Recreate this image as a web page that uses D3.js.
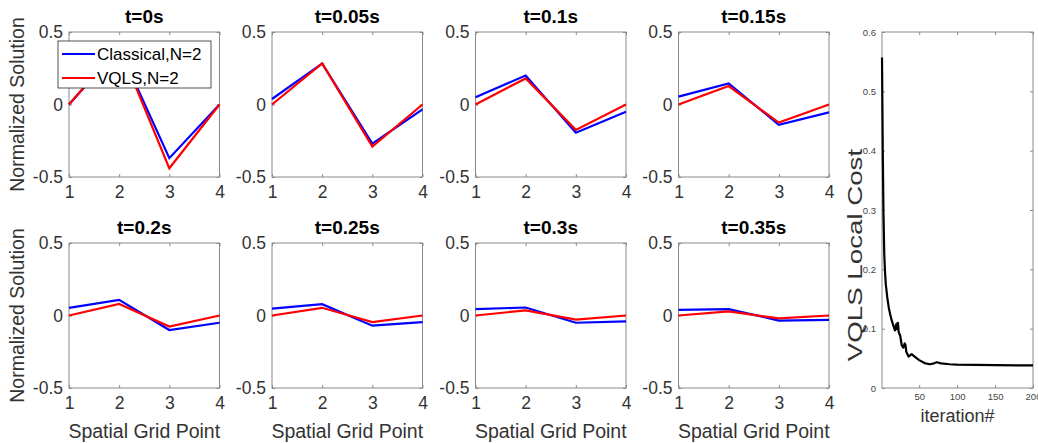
<!DOCTYPE html>
<html><head><meta charset="utf-8">
<script src="https://cdn.jsdelivr.net/npm/d3@7"></script>
<style>
html,body{margin:0;padding:0;background:#fff;}
svg{display:block;font-family:"Liberation Sans",Arial,sans-serif;}
</style></head>
<body>
<svg id="chart" width="1038" height="443"></svg>
<script>
// ---------- data ----------
const gridPoints = [1, 2, 3, 4];
const panelTitles = ["t=0s","t=0.05s","t=0.1s","t=0.15s","t=0.2s","t=0.25s","t=0.3s","t=0.35s"];
const classical = [
  [0, 0.39, -0.37, 0],
  [0.038, 0.283, -0.27, -0.033],
  [0.05, 0.20, -0.195, -0.05],
  [0.054, 0.145, -0.14, -0.054],
  [0.053, 0.108, -0.10, -0.05],
  [0.048, 0.078, -0.07, -0.046],
  [0.044, 0.055, -0.05, -0.04],
  [0.039, 0.044, -0.035, -0.03]
];
const vqls = [
  [0, 0.40, -0.44, 0],
  [0, 0.283, -0.29, 0],
  [0, 0.18, -0.175, 0],
  [0, 0.127, -0.125, 0],
  [0, 0.08, -0.076, 0],
  [0, 0.053, -0.046, 0],
  [0, 0.035, -0.028, 0],
  [0, 0.028, -0.02, 0]
];
const seriesNames = ["Classical,N=2", "VQLS,N=2"];
const yTickValues = [-0.5, 0, 0.5];
const yTickLabels = ["-0.5", "0", "0.5"];
const xTickLabels = ["1", "2", "3", "4"];

const costIter = [1,2,3,4,5,6,8,10,12,14,16,18,19,20,21,22,23,25,27,29,31,32,33,36,40,44,50,57,64,68,73,79,90,100,150,200];
const costVal  = [0.557,0.40,0.29,0.225,0.195,0.175,0.152,0.135,0.123,0.113,0.105,0.097,0.103,0.108,0.099,0.110,0.094,0.088,0.072,0.068,0.075,0.072,0.061,0.053,0.057,0.053,0.047,0.042,0.040,0.041,0.0435,0.0415,0.040,0.0395,0.0385,0.038];
const costXTicks = [50, 100, 150, 200];
const costYTicks = [0, 0.1, 0.2, 0.3, 0.4, 0.5, 0.6];
const costYTickLabels = ["0","0.1","0.2","0.3","0.4","0.5","0.6"];

// ---------- layout ----------
const svg = d3.select("#chart");
const colLeft = [69, 272, 475.5, 678.5];
const rowTop = [32, 243];
const pw = 150.5, ph = 145;
const frameColor = "#8a8a8a";
const textColor = "#333";
const colors = ["#0000ff", "#ff0000"];

panelTitles.forEach((title, i) => {
  const col = i % 4, row = Math.floor(i / 4);
  const left = colLeft[col], top = rowTop[row];
  const x = d3.scaleLinear().domain([1, 4]).range([left, left + pw]);
  const y = d3.scaleLinear().domain([-0.5, 0.5]).range([top + ph, top]);
  const g = svg.append("g");

  g.append("rect").attr("x", left).attr("y", top).attr("width", pw).attr("height", ph)
    .attr("fill", "#fff").attr("stroke", frameColor).attr("stroke-width", 1);

  const styleAxis = sel => {
    sel.select(".domain").remove();
    sel.selectAll(".tick line").attr("stroke", frameColor);
    sel.selectAll(".tick text").attr("fill", textColor).attr("font-size", "17.5px")
      .attr("font-family", '"Liberation Sans",Arial,sans-serif');
  };
  g.append("g").attr("transform", `translate(${left},0)`)
    .call(d3.axisLeft(y).tickValues(yTickValues).tickSize(-3).tickPadding(6)
      .tickFormat((d, k) => yTickLabels[k])).call(styleAxis);
  g.append("g").attr("transform", `translate(${left + pw},0)`)
    .call(d3.axisRight(y).tickValues(yTickValues).tickSize(-3).tickFormat("")).call(styleAxis);
  g.append("g").attr("transform", `translate(0,${top + ph})`)
    .call(d3.axisBottom(x).tickValues(gridPoints).tickSize(-3).tickPadding(9)
      .tickFormat((d, k) => xTickLabels[k])).call(styleAxis);
  g.append("g").attr("transform", `translate(0,${top})`)
    .call(d3.axisTop(x).tickValues(gridPoints).tickSize(-3).tickFormat("")).call(styleAxis);

  const line = d3.line().x((d, k) => x(gridPoints[k])).y(d => y(d));
  [classical[i], vqls[i]].forEach((vals, s) => {
    g.append("path").datum(vals).attr("d", line).attr("fill", "none")
      .attr("stroke", colors[s]).attr("stroke-width", 2.2).attr("stroke-linejoin", "miter");
  });

  g.append("text").attr("x", left + pw / 2).attr("y", top - 9.5).attr("text-anchor", "middle")
    .attr("font-weight", "bold").attr("font-size", "19px").attr("fill", "#000").text(title);

  if (col === 0) {
    g.append("text").attr("transform", `translate(24,${top + ph / 2}) rotate(-90)`)
      .attr("text-anchor", "middle").attr("font-size", "19.5px").attr("fill", textColor)
      .text("Normalized Solution");
  }
  if (row === 1) {
    g.append("text").attr("x", left + pw / 2).attr("y", 438).attr("text-anchor", "middle")
      .attr("font-size", "19.5px").attr("fill", textColor).text("Spatial Grid Point");
  }
});

// legend (first panel)
const leg = svg.append("g");
leg.append("rect").attr("x", 58).attr("y", 41).attr("width", 153).attr("height", 47)
  .attr("fill", "#fff").attr("stroke", "#262626").attr("stroke-width", 0.8);
seriesNames.forEach((name, s) => {
  const ly = 54 + s * 24;
  leg.append("line").attr("x1", 62).attr("x2", 95).attr("y1", ly).attr("y2", ly)
    .attr("stroke", colors[s]).attr("stroke-width", 2.2);
  leg.append("text").attr("x", 97).attr("y", ly + 6).attr("font-size", "17px")
    .attr("fill", "#000").text(name);
});

// ---------- cost panel ----------
const cL = 882, cR = 1033, cT = 32, cB = 388;
const cx = d3.scaleLinear().domain([1, 200]).range([cL, cR]);
const cy = d3.scaleLinear().domain([0, 0.6]).range([cB, cT]);
const cg = svg.append("g");
cg.append("rect").attr("x", cL).attr("y", cT).attr("width", cR - cL).attr("height", cB - cT)
  .attr("fill", "#fff").attr("stroke", frameColor).attr("stroke-width", 1);
const styleCost = sel => {
  sel.select(".domain").remove();
  sel.selectAll(".tick line").attr("stroke", frameColor);
  sel.selectAll(".tick text").attr("fill", "#444").attr("font-size", "9.5px")
    .attr("font-family", '"Liberation Sans",Arial,sans-serif');
};
cg.append("g").attr("transform", `translate(${cL},0)`)
  .call(d3.axisLeft(cy).tickValues(costYTicks).tickSize(-3).tickPadding(6)
    .tickFormat((d, k) => costYTickLabels[k])).call(styleCost);
cg.append("g").attr("transform", `translate(${cR},0)`)
  .call(d3.axisRight(cy).tickValues(costYTicks).tickSize(-3).tickFormat("")).call(styleCost);
cg.append("g").attr("transform", `translate(0,${cB})`)
  .call(d3.axisBottom(cx).tickValues(costXTicks).tickSize(-3).tickPadding(5)
    .tickFormat(d3.format("d"))).call(styleCost);
cg.append("g").attr("transform", `translate(0,${cT})`)
  .call(d3.axisTop(cx).tickValues(costXTicks).tickSize(-3).tickFormat("")).call(styleCost);

const costLine = d3.line().x((d, k) => cx(costIter[k])).y(d => cy(d)).curve(d3.curveLinear);
cg.append("path").datum(costVal).attr("d", costLine).attr("fill", "none")
  .attr("stroke", "#000").attr("stroke-width", 2.2).attr("stroke-linejoin", "round");

cg.append("text").attr("transform", `translate(862,255) rotate(-90) scale(1.42,1)`)
  .attr("text-anchor", "middle").attr("font-size", "19.5px").attr("fill", textColor)
  .text("VQLS Local Cost");
cg.append("text").attr("x", (cL + cR) / 2).attr("y", 422).attr("text-anchor", "middle")
  .attr("font-size", "18px").attr("fill", textColor).text("iteration#");
</script>
</body></html>
